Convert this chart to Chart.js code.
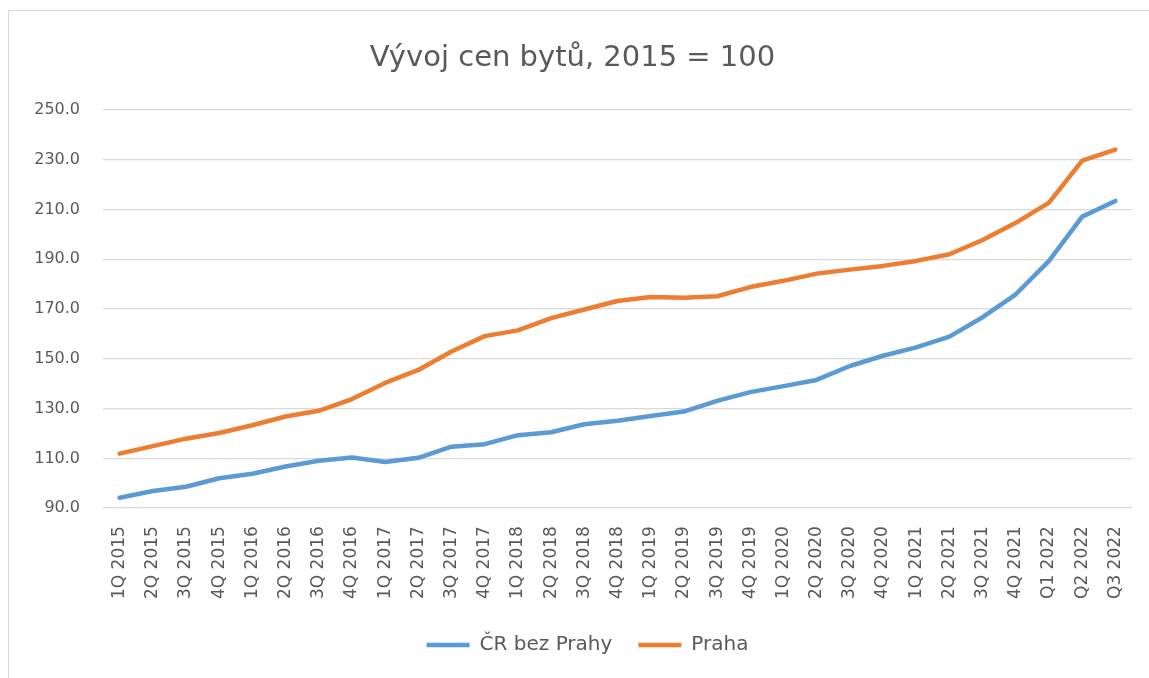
<!DOCTYPE html>
<html>
<head>
<meta charset="utf-8">
<script src="https://cdn.jsdelivr.net/npm/chart.js@4.4.0/dist/chart.umd.min.js"></script>
<style>
  html, body { margin: 0; padding: 0; background: #ffffff; }
  #frame { position: absolute; left: 8px; top: 10px; width: 1141px; height: 668px;
           border-left: 1px solid #d9d9d9; border-top: 1px solid #d9d9d9; box-sizing: border-box; }
  #c { display: block; }
</style>
</head>
<body>
<div id="frame"><canvas id="c" width="1140" height="667"></canvas></div>
<script>
const categories = ["1Q 2015","2Q 2015","3Q 2015","4Q 2015","1Q 2016","2Q 2016","3Q 2016","4Q 2016",
  "1Q 2017","2Q 2017","3Q 2017","4Q 2017","1Q 2018","2Q 2018","3Q 2018","4Q 2018",
  "1Q 2019","2Q 2019","3Q 2019","4Q 2019","1Q 2020","2Q 2020","3Q 2020","4Q 2020",
  "1Q 2021","2Q 2021","3Q 2021","4Q 2021","Q1 2022","Q2 2022","Q3 2022"];
const crBezPrahy = [94.2, 96.9, 98.6, 102.0, 103.8, 106.7, 109.0, 110.3,
  108.5, 110.2, 114.7, 115.7, 119.3, 120.5, 123.7, 125.1,
  127.0, 128.8, 133.1, 136.6, 139.0, 141.5, 147.1, 151.2,
  154.6, 158.9, 166.7, 175.9, 189.3, 207.1, 213.4];
const praha = [111.9, 114.9, 117.9, 120.2, 123.3, 126.8, 129.1, 133.8,
  140.3, 145.5, 152.9, 159.1, 161.4, 166.3, 169.8, 173.2,
  174.8, 174.5, 175.1, 178.8, 181.3, 184.2, 185.8, 187.3,
  189.3, 192.0, 197.7, 204.6, 212.7, 229.6, 234.0];
const seriesNames = ["ČR bez Prahy", "Praha"];
const titleText = "Vývoj cen bytů, 2015 = 100";
const yMin = 90, yMax = 250, yStep = 20;

const FONT = "'DejaVu Sans', sans-serif";
const TXT = "#595959";

const legendShift = {
  id: 'legendShift',
  afterLayout(chart) {
    const lg = chart.legend;
    if (lg) { lg.left += 15; lg.right += 15; }
  }
};

new Chart(document.getElementById('c'), {
  type: 'line',
  data: {
    labels: categories,
    datasets: [
      { label: seriesNames[0], data: crBezPrahy, borderColor: '#5B9BD5', backgroundColor: '#5B9BD5',
        borderWidth: 4.5, pointRadius: 0, tension: 0, borderCapStyle: 'round', borderJoinStyle: 'round' },
      { label: seriesNames[1], data: praha, borderColor: '#ED7D31', backgroundColor: '#ED7D31',
        borderWidth: 4.5, pointRadius: 0, tension: 0, borderCapStyle: 'round', borderJoinStyle: 'round' }
    ]
  },
  plugins: [legendShift],
  options: {
    responsive: false,
    animation: false,
    layout: { padding: { left: 4, right: 17, top: 0, bottom: 13 } },
    plugins: {
      title: { display: true, text: titleText, color: TXT,
        font: { family: FONT, size: 29, weight: 'normal' }, padding: { top: 30, bottom: 34 } },
      legend: { position: 'bottom',
        labels: { color: TXT, font: { family: FONT, size: 20 }, usePointStyle: true, pointStyle: 'line',
          pointStyleWidth: 43, boxHeight: 18, padding: 26 } },
      tooltip: { enabled: false }
    },
    scales: {
      x: {
        offset: true,
        grid: { display: false },
        border: { display: false },
        ticks: { color: TXT, font: { family: FONT, size: 17 }, minRotation: 90, maxRotation: 90,
          autoSkip: false, padding: 10 }
      },
      y: {
        min: yMin, max: yMax,
        grid: { color: '#d9d9d9', lineWidth: 1.3, drawTicks: false },
        border: { display: false },
        afterFit: s => { s.width = 90; },
        ticks: { stepSize: yStep, color: TXT, font: { family: FONT, size: 16 }, padding: 23,
          callback: v => v.toFixed(1) }
      }
    }
  }
});
</script>
</body>
</html>
